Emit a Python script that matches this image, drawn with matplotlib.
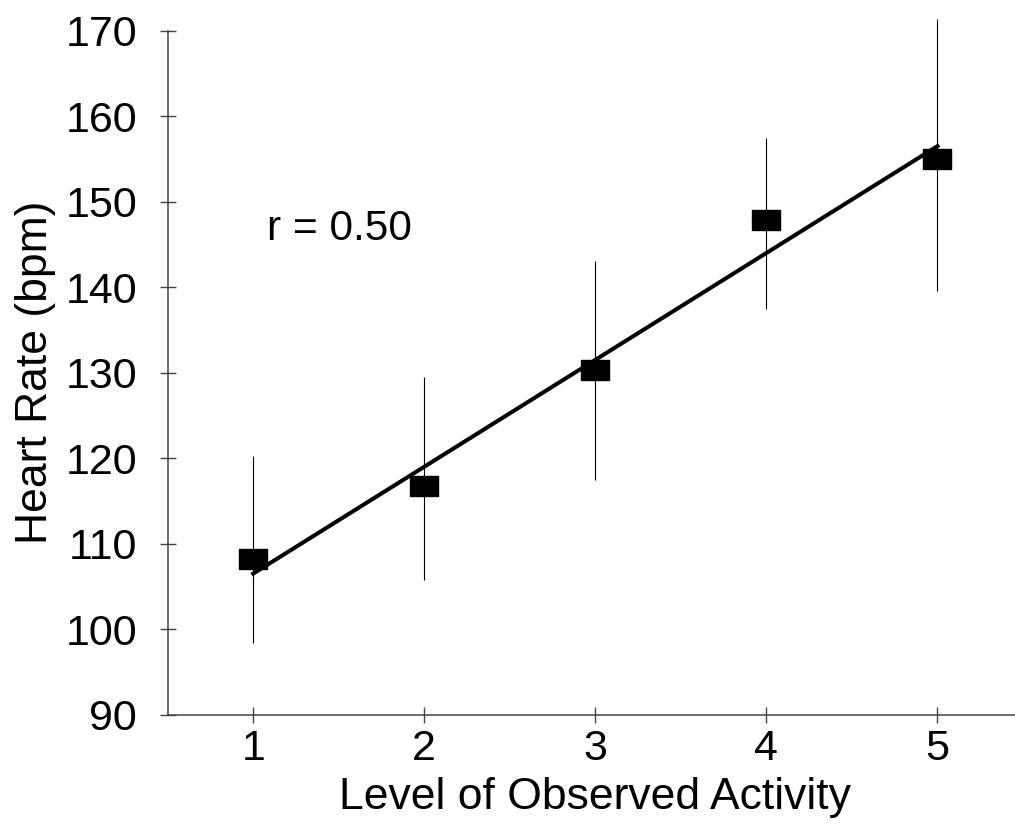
import numpy as np
import matplotlib.pyplot as plt

plt.rcParams['font.family'] = ['Liberation Sans', 'DejaVu Sans']

# readings from the figure
activity = [1, 2, 3, 4, 5]
heart_rate = [108.2, 116.7, 130.3, 147.8, 155.0]
err_low = [98.4, 105.8, 117.4, 137.5, 139.6]
err_high = [120.3, 129.5, 143.1, 157.4, 171.4]
fit_x = [1, 5]
fit_y = [106.5, 156.5]
r_label = "r = 0.50"

hr = np.array(heart_rate)
yerr = [hr - np.array(err_low), np.array(err_high) - hr]

fig = plt.figure(figsize=(10.15, 8.27), dpi=100)
ax = fig.add_axes([0.1652, 0.1358, 0.8427, 0.8271])

# rectangular (wider than tall) square markers
rect = [(-1.4, -1), (1.4, -1), (1.4, 1), (-1.4, 1), (-1.4, -1)]

ax.errorbar(activity, heart_rate, yerr=yerr, fmt='none', ecolor='black',
            elinewidth=0.8, capsize=0, clip_on=False, zorder=2)
ax.plot(fit_x, fit_y, color='black', linewidth=2.9, zorder=3)
ax.plot(activity, heart_rate, linestyle='none', marker=rect, markersize=19.5,
        color='black', clip_on=False, zorder=4)

ax.text(1.08, 145.5, r_label, fontsize=30.5)

ax.set_xlim(0.5, 5.5)
ax.set_ylim(90, 170)
ax.set_xticks(activity)
ax.set_yticks(np.arange(90, 171, 10))

for s in ['top', 'right']:
    ax.spines[s].set_visible(False)
for s in ['left', 'bottom']:
    ax.spines[s].set_color('#444444')
    ax.spines[s].set_linewidth(1.1)

ax.tick_params(axis='both', direction='inout', length=12, width=1.0,
               color='#444444', labelsize=31)
ax.tick_params(axis='y', pad=16)
ax.tick_params(axis='x', pad=4)

ax.set_xlabel("Level of Observed Activity", fontsize=32, labelpad=6)
ax.set_ylabel("Heart Rate (bpm)", fontsize=32, labelpad=7)

fig.savefig('out.png', dpi=100)
